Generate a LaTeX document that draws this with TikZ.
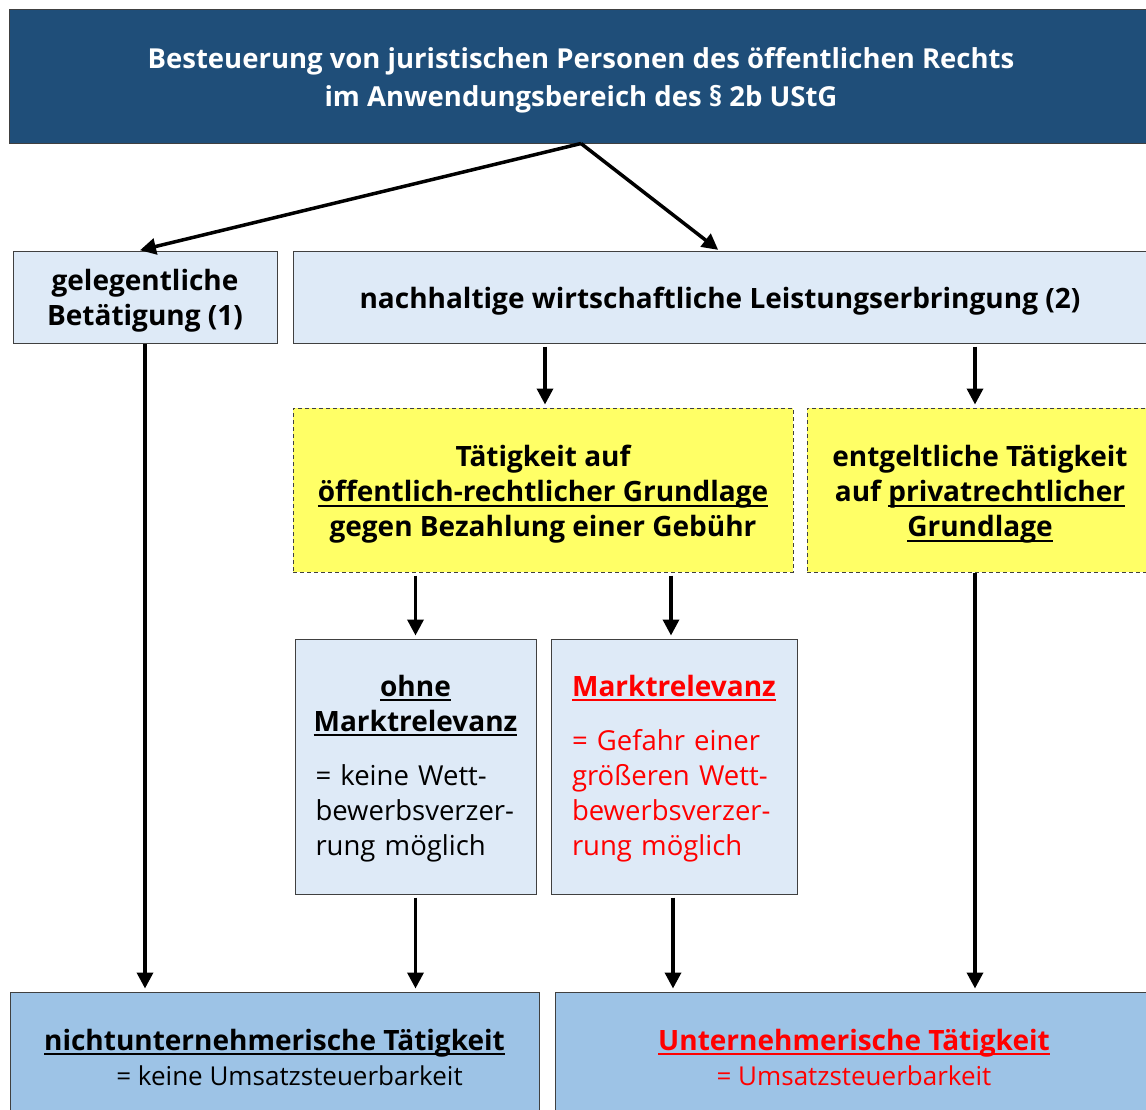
\documentclass[tikz,border=0pt]{standalone}
\usepackage{fontspec}
\setmainfont{Open Sans}
\usetikzlibrary{arrows.meta}
\definecolor{darkblue}{HTML}{1F4E79}
\definecolor{lightblue}{HTML}{DEEAF7}
\definecolor{yell}{HTML}{FFFF66}
\definecolor{midblue}{HTML}{9DC3E6}
\definecolor{boxline}{HTML}{404040}
\definecolor{redtxt}{HTML}{FF0000}
\newsavebox\ulbox
\newcommand\ulx[1]{\sbox\ulbox{#1}\rlap{\rule[-5pt]{\wd\ulbox}{2pt}}\usebox\ulbox}
\newcommand\tp[1]{\rule{0pt}{#1}}
\tikzset{
  box/.style={draw=boxline, line width=1pt, inner sep=0pt, align=center,
    font=\fontsize{26}{35}\selectfont,
    execute at begin node={\hyphenpenalty=10000 \exhyphenpenalty=10000 }},
  bfont/.style={font=\bfseries\fontsize{28}{35}\selectfont},
  mfont/.style={font=\fontsize{27.5}{35}\selectfont},
  lb/.style={box, fill=lightblue},
  yb/.style={box, fill=yell, dash pattern=on 4pt off 3pt},
  bb/.style={box, fill=midblue},
  arr/.style={line width=3.5pt, -{Triangle[length=16pt,width=16pt]}, shorten >=3pt, shorten <=3pt},
  darr/.style={line width=3.5pt, -{Triangle[length=16pt,width=16pt]}, shorten >=1pt}
}
\begin{document}
\begin{tikzpicture}[x=1pt,y=-1pt]
\useasboundingbox (0,0) rectangle (1146,1109);
\clip (0,0) rectangle (1146,1109);
\fill[white] (0,0) rectangle (1146,1109);

\node[box, fill=darkblue, text=white, minimum width=1144pt, minimum height=134pt,
  font=\bfseries\fontsize{27.5}{38}\selectfont] (top) at (581,76)
  {\tp{29pt}Besteuerung von juristischen Personen des öffentlichen Rechts\\im Anwendungsbereich des § 2b UStG};

\node[lb, bfont, minimum width=264pt, minimum height=92pt] (gel) at (145,297)
  {\tp{29pt}gelegentliche\\Betätigung (1)};
\node[lb, bfont, minimum width=860pt, minimum height=92pt] (nach) at (723,297)
  {\tp{29pt}\hspace*{-6pt}nachhaltige wirtschaftliche Leistungserbringung (2)};

\node[yb, bfont, minimum width=500pt, minimum height=164pt] (y1) at (543,490)
  {\tp{30pt}Tätigkeit auf\\\ulx{öffentlich-rechtlicher Grundlage}\\gegen Bezahlung einer Gebühr};
\node[yb, bfont, minimum width=346pt, minimum height=164pt] (y2) at (980,490)
  {\tp{30pt}entgeltliche Tätigkeit\\auf \ulx{privatrechtlicher}\\\ulx{Grundlage}};

\node[lb, mfont, minimum width=241pt, minimum height=255pt, text width=200pt, align=left] (ohne) at (415.5,766.5)
  {\tp{25pt}\makebox[200pt][c]{\bfseries\fontsize{28}{35}\selectfont\ulx{ohne}}\\ \makebox[200pt][c]{\bfseries\fontsize{28}{35}\selectfont\ulx{Marktrelevanz}}\\[19pt] = keine Wett-\\ bewerbsverzer-\\ rung möglich};
\node[lb, mfont, minimum width=246pt, minimum height=255pt, text width=204pt, align=left, text=redtxt] (markt) at (674,766.5)
  {\tp{25pt}\makebox[204pt][c]{\bfseries\fontsize{28}{35}\selectfont\ulx{Marktrelevanz}}\\[19pt] = Gefahr einer\\ größeren Wett-\\ bewerbsverzer-\\ rung möglich};

\node[bb, minimum width=529pt, minimum height=130pt] (nicht) at (274.5,1057)
  {{\bfseries\fontsize{28}{35}\selectfont\ulx{nichtunternehmerische Tätigkeit}}\\\hspace*{30pt}= keine Umsatzsteuerbarkeit};
\node[bb, minimum width=598pt, minimum height=130pt, text=redtxt] (unter) at (854,1057)
  {{\bfseries\fontsize{28}{35}\selectfont\ulx{Unternehmerische Tätigkeit}}\\= Umsatzsteuerbarkeit};

\draw[darr] (top.south) -- ([xshift=-6pt]gel.north);
\draw[darr] (top.south) -- ([xshift=-4pt]nach.north);
\draw[arr] ([xshift=2pt]y1.north |- nach.south) -- ([xshift=2pt]y1.north);
\draw[arr] ([xshift=-5pt]y2.north |- nach.south) -- ([xshift=-5pt]y2.north);
\draw[arr] (ohne.north |- y1.south) -- (ohne.north);
\draw[arr] ([xshift=-3pt]markt.north |- y1.south) -- ([xshift=-3pt]markt.north);
\draw[arr, shorten <=0pt] (gel.south) -- (gel.south |- nicht.north);
\draw[arr] (ohne.south) -- (ohne.south |- nicht.north);
\draw[arr] ([xshift=-1pt]markt.south) -- ([xshift=-1pt]markt.south |- unter.north);
\draw[arr, shorten <=0pt] ([xshift=-5pt]y2.south) -- ([xshift=-5pt]y2.south |- unter.north);
\end{tikzpicture}
\end{document}
